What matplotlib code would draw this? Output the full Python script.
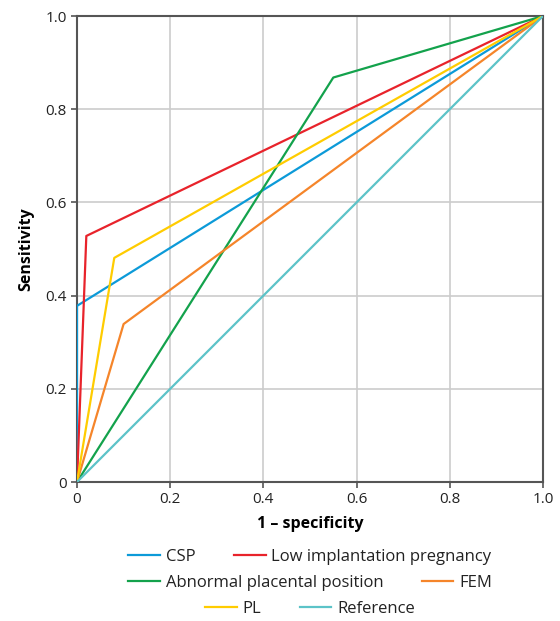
import matplotlib
matplotlib.use('Agg')
import matplotlib.pyplot as plt
from matplotlib.ticker import FuncFormatter

# ROC curves: 1 - specificity (x) vs sensitivity (y)
labels = ['CSP', 'Low implantation pregnancy', 'Abnormal placental position', 'FEM', 'PL', 'Reference']
fpr = [
    [0, 0, 1],
    [0, 0.02, 1],
    [0, 0.55, 1],
    [0, 0.10, 1],
    [0, 0.08, 1],
    [0, 1],
]
tpr = [
    [0, 0.378, 1],
    [0, 0.528, 1],
    [0, 0.868, 1],
    [0, 0.339, 1],
    [0, 0.481, 1],
    [0, 1],
]
colors = ['#0c9ad8', '#e8232b', '#13a24c', '#f5852a', '#ffcc00', '#5cc3c8']
ticks = [0, 0.2, 0.4, 0.6, 0.8, 1.0]

plt.rcParams['font.family'] = ['Open Sans', 'DejaVu Sans']

fig = plt.figure(figsize=(5.6, 6.21), dpi=100)
ax = fig.add_axes([0.1375, 0.2238, 0.8321, 0.7504])

lines = []
for x, y, c, lab in zip(fpr, tpr, colors, labels):
    ln, = ax.plot(x, y, color=c, lw=1.6, label=lab, zorder=3)
    lines.append(ln)

ax.set_xlim(0, 1)
ax.set_ylim(0, 1)
ax.set_xticks(ticks)
ax.set_yticks(ticks)
fmt = FuncFormatter(lambda v, p: '0' if v == 0 else f'{v:.1f}')
ax.xaxis.set_major_formatter(fmt)
ax.yaxis.set_major_formatter(fmt)
ax.grid(True, color='#cccccc', lw=1.2, zorder=0)
for s in ax.spines.values():
    s.set_color('#555555')
    s.set_linewidth(1.5)
ax.tick_params(colors='#555555', labelcolor='#222222', labelsize=11, width=1.2, length=4)
ax.set_xlabel('1 – specificity', fontsize=11.5, fontweight='bold', labelpad=6)
ax.set_ylabel('Sensitivity', fontsize=11.5, fontweight='bold', labelpad=8)

# three centred legend rows
rows = [(0, 1), (2, 3), (4, 5)]
ys = [0.103, 0.061, 0.019]
for (i, j), yy in zip(rows, ys):
    leg = fig.legend([lines[i], lines[j]], [labels[i], labels[j]], ncol=2,
                     loc='center', bbox_to_anchor=(0.5536, yy), frameon=False,
                     fontsize=12, handlelength=1.9, handletextpad=0.35,
                     columnspacing=2.3, borderpad=0)
    for t in leg.get_texts():
        t.set_color('#222222')

fig.savefig('out.png', dpi=100)
